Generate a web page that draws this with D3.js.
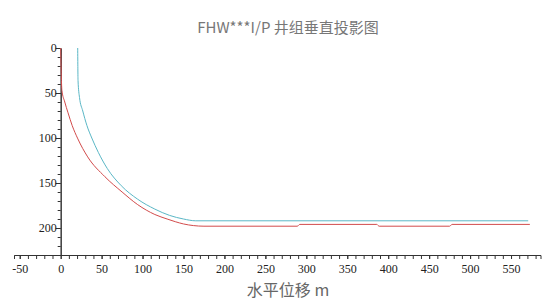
<!DOCTYPE html>
<html>
<head>
<meta charset="utf-8">
<script src="https://cdn.jsdelivr.net/npm/d3@7"></script>
<style>
  body { margin: 0; background: #fff; }
  svg { display: block; }
</style>
</head>
<body>
<svg width="560" height="304"></svg>
<script>
// horizontal displacement (m) / vertical depth
var cyanX = [20.8, 21.2, 23, 27, 32, 38, 46, 57, 74, 94, 115, 133, 150, 165, 571];
var cyanY = [0, 36, 55, 70, 86, 100, 116, 134, 153, 168, 179, 186, 190, 192, 192];

var redX = [0, 1.5, 5, 9, 14, 21, 33, 54, 75, 94, 115, 130, 140, 150, 162, 175, 289, 292, 386, 389, 475, 478, 573];
var redY = [0, 47, 60, 72, 86, 101, 121, 143, 160, 174, 185, 190, 193, 195.5, 197.3, 198, 198, 196, 196, 198, 198, 196, 196];

var xMajor = [-50, 0, 50, 100, 150, 200, 250, 300, 350, 400, 450, 500, 550];
var yMajor = [0, 50, 100, 150, 200];

var svg = d3.select("svg");

var x = d3.scaleLinear().domain([-57, 586]).range([14, 540.5]),
    y = d3.scaleLinear().domain([0, 230]).range([48, 255]);

var xMinor = d3.range(-50, 581, 10),
    yMinor = d3.range(0, 221, 10);

var plain = function(d) { return String(d); };

// title
svg.append("text")
    .attr("x", 288)
    .attr("y", 33)
    .attr("text-anchor", "middle")
    .attr("fill", "#777")
    .attr("font-family", "'Noto Sans CJK SC', 'DejaVu Sans', sans-serif")
    .attr("font-size", "15px")
    .text("FHW***I/P 井组垂直投影图");

// x axis
var gx = svg.append("g")
    .attr("transform", "translate(0," + y(230) + ")");

gx.call(d3.axisBottom(x).tickValues(xMinor).tickSize(4).tickFormat(""));
gx.append("g").call(d3.axisBottom(x).tickValues(xMajor).tickSize(4).tickSizeOuter(0).tickFormat(plain));
gx.selectAll("text").attr("dy", "0.95em");

// y axis
var gy = svg.append("g")
    .attr("transform", "translate(" + x(0) + ",0)");

gy.call(d3.axisLeft(y).tickValues(yMinor).tickSize(3).tickSizeOuter(0).tickFormat(""));
gy.append("g").call(d3.axisLeft(y).tickValues(yMajor).tickSize(5).tickSizeOuter(0).tickFormat(plain));
gy.selectAll("text").attr("x", -4);

svg.selectAll(".domain, .tick line").attr("stroke", "#333");
svg.selectAll("g").attr("font-family", null);
svg.selectAll(".tick text")
    .style("font-family", "'Liberation Serif', 'Times New Roman', serif")
    .style("font-size", "12px")
    .style("fill", "#222");

// x axis title
svg.append("text")
    .attr("x", 288)
    .attr("y", 296)
    .attr("text-anchor", "middle")
    .attr("fill", "#666")
    .attr("font-family", "'Noto Sans CJK SC', 'DejaVu Sans', sans-serif")
    .attr("font-size", "16px")
    .text("水平位移 m");

var line = d3.line()
    .x(function(d) { return x(d[0]); })
    .y(function(d) { return y(d[1]); })
    .curve(d3.curveMonotoneX);

svg.append("path")
    .datum(d3.zip(cyanX, cyanY))
    .attr("fill", "none")
    .attr("stroke", "#5ab7c6")
    .attr("stroke-width", 1)
    .attr("d", line);

svg.append("path")
    .datum(d3.zip(redX, redY))
    .attr("fill", "none")
    .attr("stroke", "#d24b4b")
    .attr("stroke-width", 1)
    .attr("d", line);
</script>
</body>
</html>
